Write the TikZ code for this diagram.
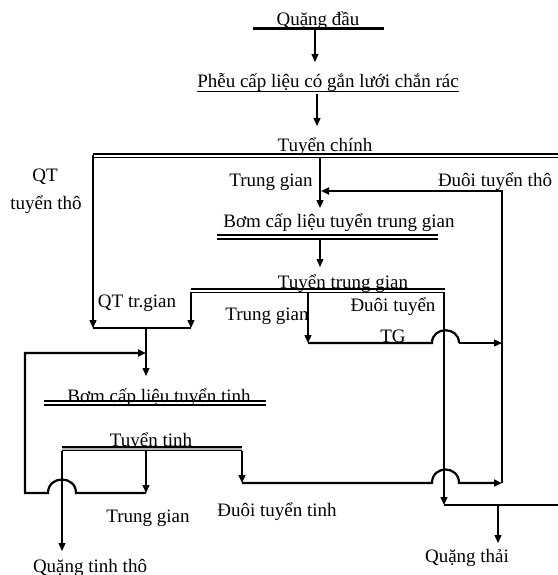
\documentclass[tikz,border=0pt]{standalone}
\usepackage{fontspec}
\setmainfont{Liberation Serif}
\usetikzlibrary{arrows.meta}
\begin{document}
\begin{tikzpicture}[x=1bp,y=-1bp,
  lbl/.style={anchor=base,inner sep=0pt,font=\fontsize{19bp}{22bp}\selectfont},
  fl/.style={line width=1.3bp},
  tk/.style={line width=2.2bp},
  arr/.style={-{Triangle[length=8bp,width=7bp]}},
  dbl/.style={line width=1.1bp},
]
\useasboundingbox (0,0) rectangle (558,575);
% labels
\node[lbl] (qd) at (318,26) {Quặng đầu};
\node[lbl] (phieu) at (328,88) {Phễu cấp liệu có gắn lưới chắn rác};
\node[lbl] (tc) at (325,152) {Tuyển chính};
\node[lbl] (tg1) at (271,186) {Trung gian};
\node[lbl] (dtt) at (495,186) {Đuôi tuyển thô};
\node[lbl] (bomtg) at (339,227) {Bơm cấp liệu tuyển trung gian};
\node[lbl] (ttg) at (343,288) {Tuyển trung gian};
\node[lbl] (qt) at (45,181) {QT};
\node[lbl] (qtt) at (46,209) {tuyển thô};
\node[lbl] (qttg) at (137,307) {QT tr.gian};
\node[lbl] (tg2) at (267,320) {Trung gian};
\node[lbl] (dt) at (393,311) {Đuôi tuyển};
\node[lbl] (tgl) at (393,342) {TG};
\node[lbl] (bomt) at (159,402) {Bơm cấp liệu tuyển tinh};
\node[lbl] (tt) at (151,446) {Tuyển tinh};
\node[lbl] (tg3) at (148,522) {Trung gian};
\node[lbl] (dtti) at (277,516) {Đuôi tuyển tinh};
\node[lbl] (qthai) at (467,562) {Quặng thải};
\node[lbl] (qtinh) at (90,572) {Quặng tinh thô};
% coordinates
\coordinate (qdL) at (253,29); \coordinate (qdR) at (384,29);
\coordinate (a1s) at (315,29); \coordinate (a1e) at (315,62);
\coordinate (a2s) at (317,94); \coordinate (a2e) at (317,126);
\coordinate (mL) at (93,154); \coordinate (mR) at (558,154);
\coordinate (mL2) at (93,158); \coordinate (mR2) at (558,158);
\coordinate (lv1) at (93,155); \coordinate (lv2) at (93,328);
\coordinate (rv1) at (191,292); \coordinate (rv2) at (191,328);
\coordinate (mid1) at (146,328); \coordinate (mid2) at (146,376);
\coordinate (tgv1) at (320,158); \coordinate (tgv2) at (320,208);
\coordinate (dtb) at (502,483); \coordinate (dtt1) at (502,191); \coordinate (dtt2) at (321,191);
\coordinate (b1L) at (217,235); \coordinate (b1R) at (438,235);
\coordinate (b2L) at (217,239); \coordinate (b2R) at (438,239);
\coordinate (a3s) at (320,239); \coordinate (a3e) at (320,267);
\coordinate (t1L) at (191,289); \coordinate (t1R) at (445,289);
\coordinate (t2L) at (191,292); \coordinate (t2R) at (445,292);
\coordinate (tgs) at (308,292); \coordinate (tge) at (308,343);
\coordinate (j1a) at (432,343); \coordinate (j1b) at (459,343); \coordinate (j1e) at (502,343);
\coordinate (v44a) at (444,292); \coordinate (v44b) at (444,505);
\coordinate (hR) at (558,505);
\coordinate (qts) at (498,505); \coordinate (qte) at (498,543);
\coordinate (c1L) at (44,401); \coordinate (c1R) at (266,401);
\coordinate (c2L) at (44,405); \coordinate (c2R) at (266,405);
\coordinate (ttL) at (62,448.5); \coordinate (ttR) at (242,448.5);
\coordinate (v62a) at (62,451); \coordinate (v62b) at (62,551);
\coordinate (v146a) at (146,451); \coordinate (v146b) at (146,493);
\coordinate (v242a) at (242,451); \coordinate (v242b) at (242,483);
\coordinate (j2a) at (432,483); \coordinate (j2b) at (459,483); \coordinate (j2e) at (502,483);
\coordinate (j3a) at (76,493); \coordinate (j3b) at (48,493);
\coordinate (rc1) at (25,493); \coordinate (rc2) at (25,353); \coordinate (rc3) at (146,353);
% drawing
\draw[line width=3bp] (qdL) -- (qdR);
\draw[line width=0.9bp] ([yshift=-3bp]phieu.base west) -- ([yshift=-3bp]phieu.base east);
\draw[fl,arr] (a1s) -- (a1e);
\draw[fl,arr] (a2s) -- (a2e);
\draw[line width=2.5bp] (mL) -- (mR);
\draw[line width=1bp] (mL2) -- (mR2);
\draw[fl,arr] (lv1) -- (lv2);
\draw[fl,arr] (rv1) -- (rv2);
\draw[tk] (lv2) -- (rv2);
\draw[fl,arr] (mid1) -- (mid2);
\draw[fl,arr] (tgv1) -- (tgv2);
\draw[tk,arr] (dtb) -- (dtt1) -- (dtt2);
\draw[dbl] (b1L) -- (b1R);
\draw[dbl] (b2L) -- (b2R);
\draw[fl,arr] (a3s) -- (a3e);
\draw[line width=1.5bp] (t1L) -- (t1R);
\draw[line width=1bp] (t2L) -- (t2R);
\draw[fl,arr] (tgs) -- (tge);
\draw[tk] (tge) -- (j1a) .. controls ([yshift=17bp]j1a) and ([yshift=17bp]j1b) .. (j1b);
\draw[fl,arr] (j1b) -- (j1e);
\draw[fl,arr] (v44a) -- (v44b);
\draw[tk] (v44b) -- (hR);
\draw[fl,arr] (qts) -- (qte);
\draw[dbl] (c1L) -- (c1R);
\draw[dbl] (c2L) -- (c2R);
\draw[line width=1.2bp,double=gray!60,double distance=2bp] (ttL) -- (ttR);
\draw[fl,arr] (v62a) -- (v62b);
\draw[fl,arr] (v146a) -- (v146b);
\draw[fl,arr] (v242a) -- (v242b);
\draw[tk,arr] (v242b) -- (j2a) .. controls ([yshift=18bp]j2a) and ([yshift=18bp]j2b) .. (j2b) -- (j2e);
\draw[tk,arr] (v146b) -- (j3a) .. controls ([yshift=18bp]j3a) and ([yshift=18bp]j3b) .. (j3b) -- (rc1) -- (rc2) -- (rc3);
\end{tikzpicture}
\end{document}
